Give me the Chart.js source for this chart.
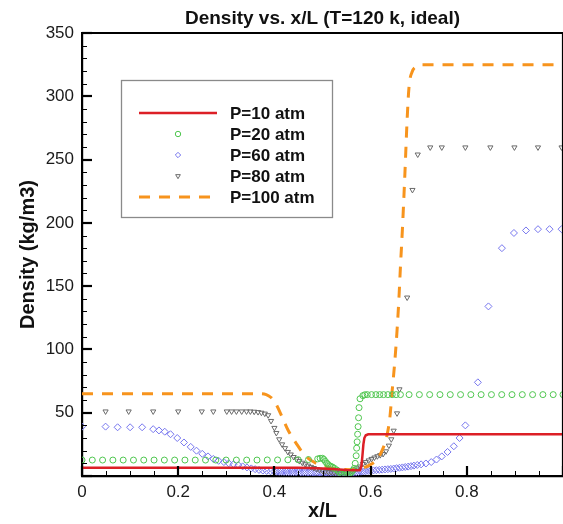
<!DOCTYPE html>
<html><head><meta charset="utf-8">
<script src="https://cdn.jsdelivr.net/npm/chart.js@4.4.1/dist/chart.umd.min.js"></script>
<style>
html,body{margin:0;padding:0;background:#fff;overflow:hidden;width:563px;height:524px}
#wrap{width:569px;height:524px}
</style></head>
<body><div id="wrap"><canvas id="c" width="569" height="524"></canvas></div>
<script>
// ---------- data ----------
const chartTitle = 'Density vs. x/L (T=120 k, ideal)';
const xAxisTitle = 'x/L';
const yAxisTitle = 'Density (kg/m3)';
const seriesNames = ['P=10 atm', 'P=20 atm', 'P=60 atm', 'P=80 atm', 'P=100 atm'];
const xTickValues = [0, 0.2, 0.4, 0.6, 0.8];
const yTickValues = [50, 100, 150, 200, 250, 300, 350];

const p10X = [0, 0.45, 0.49, 0.52, 0.55, 0.578, 0.581, 0.583, 0.585, 0.587, 0.59, 0.595, 1.0];
const p10Y = [6.5, 6.5, 6.2, 5.5, 4.8, 4.5, 8, 16, 25, 30, 32.2, 33, 33];

const p20X = [0, 0.0214, 0.0428, 0.0642, 0.0856, 0.107, 0.1284, 0.1498, 0.1712, 0.1926, 0.214, 0.2354, 0.2568, 0.2782, 0.2996, 0.321, 0.3424, 0.3638, 0.3852, 0.4066, 0.428, 0.4494, 0.4708,
  0.49, 0.495, 0.5, 0.503, 0.506, 0.509, 0.512, 0.515, 0.518, 0.521, 0.525, 0.53, 0.535, 0.54, 0.544, 0.548, 0.552, 0.556, 0.56, 0.563, 0.566, 0.568, 0.57, 0.571, 0.572, 0.573, 0.574, 0.575, 0.576,
  0.578, 0.584, 0.588, 0.593, 0.602, 0.611, 0.619, 0.627, 0.636, 0.645, 0.653, 0.662,
  0.68, 0.7014, 0.7228, 0.7442, 0.7656, 0.787, 0.8084, 0.8298, 0.8512, 0.8726, 0.894, 0.9154, 0.9368, 0.9582, 0.9796, 1.0];
const p20Y = [12.6, 12.6, 12.6, 12.6, 12.6, 12.6, 12.6, 12.6, 12.6, 12.6, 12.6, 12.6, 12.6, 12.6, 12.6, 12.6, 12.6, 12.6, 12.7, 12.7, 12.8, 12.9, 13,
  13.5, 14, 14, 13, 11.5, 10, 9, 8, 7.5, 7, 6, 4.7, 3, 1.5, 0.5, 0.5, 1, 2, 3, 4.5, 6, 10, 16, 22, 27, 33, 39, 46, 54,
  61, 63.5, 64.2, 64.3, 64.3, 64.3, 64.3, 64.3, 64.3, 64.3, 64.3, 64.3,
  64.3, 64.3, 64.3, 64.3, 64.3, 64.3, 64.3, 64.3, 64.3, 64.3, 64.3, 64.3, 64.3, 64.3, 64.3, 64.3];

const p60X = [0, 0.049, 0.074, 0.1, 0.125, 0.148, 0.16, 0.172, 0.184, 0.198, 0.212, 0.226, 0.238, 0.25, 0.262, 0.273, 0.284, 0.295, 0.305, 0.315, 0.325, 0.334, 0.343, 0.352, 0.36, 0.368, 0.376, 0.384, 0.392, 0.4,
  0.405, 0.41, 0.415, 0.42, 0.425, 0.43, 0.435, 0.44, 0.445, 0.45, 0.455, 0.46, 0.465, 0.47, 0.475, 0.48, 0.485, 0.49, 0.495, 0.5, 0.505, 0.51, 0.515, 0.52, 0.525, 0.53, 0.535, 0.54, 0.545, 0.55, 0.555, 0.56, 0.565, 0.57, 0.575, 0.58, 0.585, 0.59, 0.595, 0.6,
  0.606, 0.612, 0.618, 0.624, 0.63, 0.636, 0.642, 0.648, 0.654, 0.66, 0.666, 0.672, 0.678, 0.684, 0.69, 0.697, 0.705, 0.715, 0.726, 0.737, 0.748, 0.76, 0.773, 0.785, 0.797, 0.823, 0.845, 0.873, 0.898, 0.923, 0.948, 0.972, 0.997];
const p60Y = [39, 39, 38.5, 38.5, 38.5, 37, 36, 35, 33, 30, 26.5, 23, 20, 17.5, 15.5, 13.5, 12, 11, 10, 9.3, 8.6, 7.6, 6.8, 6, 5.4, 4.8, 4.3, 4, 3.7, 3.5,
  3.4, 3.3, 3.3, 3.2, 3.2, 3.1, 3.1, 3, 3, 3, 2.9, 2.9, 2.9, 2.8, 2.8, 2.8, 2.7, 2.7, 2.7, 2.6, 2.6, 2.6, 2.5, 2.5, 2.5, 2.5, 2.5, 2.5, 2.6, 2.6, 2.7, 2.8, 2.9, 3, 3.2, 3.4, 3.6, 3.8, 4, 4.2,
  4.4, 4.6, 4.8, 5, 5.2, 5.4, 5.6, 5.9, 6.2, 6.5, 6.8, 7.1, 7.4, 7.8, 8.2, 8.7, 9.2, 9.9, 11, 13, 15.5, 19, 23.5, 30, 40, 74, 134, 180, 192, 194, 195, 195, 195];

const p80X = [0.049, 0.097, 0.148, 0.2, 0.249, 0.273, 0.301, 0.311, 0.321, 0.332, 0.342, 0.35, 0.358, 0.366, 0.373, 0.38, 0.387, 0.393, 0.4, 0.404, 0.41, 0.416, 0.422, 0.428, 0.434, 0.44, 0.446, 0.452, 0.458, 0.464, 0.47, 0.476, 0.482, 0.488, 0.494, 0.5,
  0.506, 0.512, 0.518, 0.524, 0.53, 0.536, 0.542, 0.548, 0.554, 0.56, 0.566, 0.572, 0.578, 0.584, 0.59, 0.596, 0.602, 0.608, 0.614, 0.62, 0.626, 0.632, 0.638, 0.643, 0.648, 0.655, 0.66, 0.676, 0.687, 0.698, 0.724, 0.748, 0.797, 0.849, 0.899, 0.948, 0.997];
const p80Y = [51, 51, 51, 51, 51, 51, 51, 51, 51, 51, 51, 51, 50.8, 50.5, 50, 49.3, 48, 43.5, 38, 34, 29, 25, 22, 19, 17, 15, 13.3, 11.8, 10.5, 9.3, 8.2, 7.2, 6.3, 5.5, 4.8, 4.2,
  3.7, 3.3, 3, 2.8, 2.6, 2.6, 2.7, 2.9, 3.3, 3.9, 4.8, 6, 7.5, 9.5, 11, 12.3, 13.5, 14.6, 15.6, 16.5, 17.4, 19.5, 24, 29, 35.8, 49.5, 68.5, 141, 226, 254, 259.6, 259.6, 259.6, 259.6, 259.6, 259.6, 259.6];

const p100X = [0, 0.37, 0.383, 0.393, 0.403, 0.415, 0.428, 0.445, 0.462, 0.482, 0.503, 0.53, 0.56, 0.585, 0.6, 0.613, 0.626, 0.634, 0.64, 0.645, 0.65, 0.655, 0.659, 0.662, 0.666, 0.671, 0.676, 0.68, 0.686, 0.695, 0.705, 1.0];
const p100Y = [65, 65, 64.3, 62, 57, 47.5, 36.5, 26, 17, 11, 8, 5.5, 5, 6.5, 9, 13, 22, 32, 46, 68, 89, 115, 141, 165, 194, 236, 282, 308, 319, 323.5, 325, 325];

// ---------- chart ----------
const FONT = 'Liberation Sans, Arial, Helvetica, sans-serif';
Chart.defaults.font.family = FONT;
Chart.defaults.color = '#1a1a1a';

const toPts = (xs, ys) => xs.map((x, i) => ({x: x, y: ys[i]}));

const COLORS = ['#dc1f26', '#4fc64f', '#7676ee', '#6a6a6a', '#f7941d'];

const datasets = [
  {label: seriesNames[0], data: toPts(p10X, p10Y), showLine: true, borderColor: COLORS[0], backgroundColor: COLORS[0], borderWidth: 2.5, pointRadius: 0, tension: 0, order: 0},
  {label: seriesNames[1], data: toPts(p20X, p20Y), showLine: false, pointStyle: 'circle', pointRadius: 3, borderColor: COLORS[1], backgroundColor: 'rgba(0,0,0,0)', pointBorderWidth: 1, order: 1},
  {label: seriesNames[2], data: toPts(p60X, p60Y), showLine: false, pointStyle: 'rectRot', pointRadius: 3.5, borderColor: COLORS[2], backgroundColor: 'rgba(0,0,0,0)', pointBorderWidth: 1, order: 4},
  {label: seriesNames[3], data: toPts(p80X, p80Y), showLine: false, pointStyle: 'triangle', pointRotation: 180, pointRadius: 3, borderColor: COLORS[3], backgroundColor: 'rgba(0,0,0,0)', pointBorderWidth: 1, order: 3},
  {label: seriesNames[4], data: toPts(p100X, p100Y), showLine: true, borderColor: COLORS[4], backgroundColor: COLORS[4], borderWidth: 3, borderDash: [11, 9], pointRadius: 0, cubicInterpolationMode: 'monotone', order: 2}
];

const innerTicks = {
  id: 'innerTicks',
  afterDatasetsDraw(chart) {
    const {ctx, chartArea: a, scales: {x, y}} = chart;
    ctx.save();
    ctx.strokeStyle = '#000';
    ctx.lineWidth = 1;
    for (let i = 0; i <= 20; i++) {
      const px = Math.round(x.getPixelForValue(i * 0.05)) + 0.5;
      ctx.beginPath(); ctx.moveTo(px, a.bottom); ctx.lineTo(px, a.bottom - 5); ctx.stroke();
    }
    for (let i = 0; i <= 35; i++) {
      const py = Math.round(y.getPixelForValue(i * 10)) + 0.5;
      ctx.beginPath(); ctx.moveTo(a.left, py); ctx.lineTo(a.left + 5, py); ctx.stroke();
    }
    ctx.lineWidth = 2.2;
    for (let i = 0; i <= 5; i++) {
      const px = Math.round(x.getPixelForValue(i * 0.2));
      ctx.beginPath(); ctx.moveTo(px, a.bottom); ctx.lineTo(px, a.bottom - 10); ctx.stroke();
    }
    for (let i = 0; i <= 7; i++) {
      const py = Math.round(y.getPixelForValue(i * 50));
      ctx.beginPath(); ctx.moveTo(a.left, py); ctx.lineTo(a.left + 10, py); ctx.stroke();
    }
    ctx.lineWidth = 2.2;
    ctx.beginPath(); ctx.moveTo(a.left - 1, a.top); ctx.lineTo(a.right + 2, a.top); ctx.stroke();
    ctx.beginPath(); ctx.moveTo(a.right, a.top); ctx.lineTo(a.right, a.bottom); ctx.stroke();
    ctx.restore();
  }
};

const boxLegend = {
  id: 'boxLegend',
  afterDraw(chart) {
    const ctx = chart.ctx;
    const bx = 121.5, by = 80.5, bw = 211, bh = 137;
    ctx.save();
    ctx.fillStyle = '#fff';
    ctx.fillRect(bx, by, bw, bh);
    ctx.strokeStyle = '#8a8a8a';
    ctx.lineWidth = 1.3;
    ctx.strokeRect(bx, by, bw, bh);
    const x0 = 139, x1 = 217, xm = 178, tx = 230;
    chart.data.datasets.forEach((ds, i) => {
      const yy = 113 + i * 21;
      if (ds.showLine) {
        ctx.strokeStyle = ds.borderColor;
        ctx.lineWidth = ds.borderWidth;
        ctx.setLineDash(ds.borderDash || []);
        ctx.beginPath(); ctx.moveTo(x0, yy); ctx.lineTo(x1, yy); ctx.stroke();
        ctx.setLineDash([]);
      } else {
        ctx.fillStyle = 'rgba(0,0,0,0)';
        ctx.strokeStyle = ds.borderColor;
        ctx.lineWidth = 1;
        Chart.helpers.drawPoint(ctx, {pointStyle: ds.pointStyle, rotation: ds.pointRotation || 0, radius: 2.7, borderWidth: 1}, xm, yy);
      }
      ctx.fillStyle = '#111';
      ctx.font = 'bold 17px ' + FONT;
      ctx.textAlign = 'left';
      ctx.textBaseline = 'middle';
      ctx.fillText(ds.label, tx, yy + 1);
    });
    ctx.restore();
  }
};

new Chart(document.getElementById('c'), {
  type: 'scatter',
  data: {datasets: datasets},
  options: {
    responsive: false,
    animation: false,
    devicePixelRatio: 1,
    layout: {padding: 0},
    plugins: {
      legend: {display: false},
      tooltip: {enabled: false},
      title: {display: true, text: chartTitle, fullSize: false, color: '#111',
        font: {size: 19, weight: 'bold'}, padding: {top: 7, bottom: 3.2}}
    },
    scales: {
      x: {
        type: 'linear', min: 0, max: 1,
        afterFit(s) { s.height = 48; },
        afterBuildTicks(s) { s.ticks = xTickValues.concat([1]).map(v => ({value: v})); },
        ticks: {font: {size: 17}, color: '#1a1a1a', padding: 6, maxRotation: 0,
          callback: (v) => xTickValues.includes(v) ? String(v) : ''},
        grid: {display: false, drawTicks: false},
        border: {display: true, color: '#000', width: 2.2},
        title: {display: true, text: xAxisTitle, font: {size: 20, weight: 'bold'}, color: '#111', padding: {top: 0, bottom: 1}}
      },
      y: {
        type: 'linear', min: 0, max: 350,
        afterFit(s) { s.width = 82; },
        afterBuildTicks(s) { s.ticks = [0].concat(yTickValues).map(v => ({value: v})); },
        ticks: {font: {size: 17}, color: '#1a1a1a', padding: 8,
          callback: (v) => yTickValues.includes(v) ? String(v) : ''},
        grid: {display: false, drawTicks: false},
        border: {display: true, color: '#000', width: 2.2},
        title: {display: true, text: yAxisTitle, font: {size: 20, weight: 'bold'}, color: '#111', padding: {top: 16, bottom: 0}}
      }
    }
  },
  plugins: [innerTicks, boxLegend]
});
</script>
</body></html>
